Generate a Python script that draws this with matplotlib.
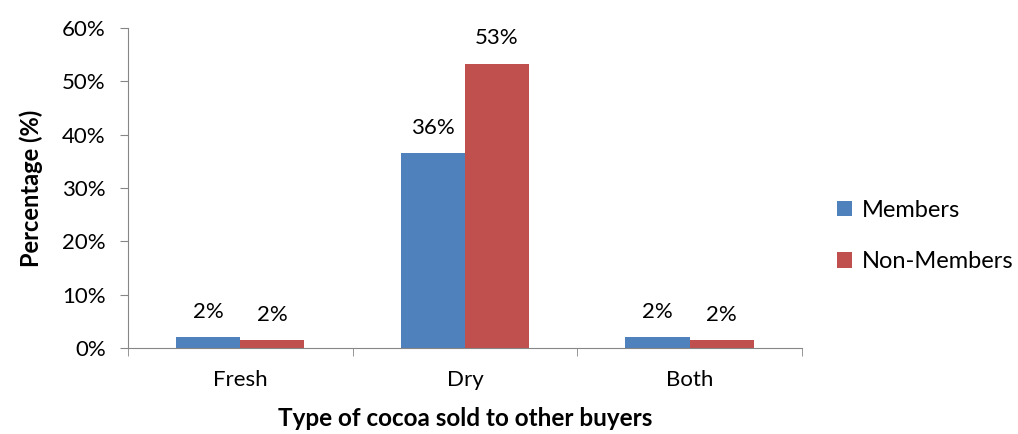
import numpy as np
import matplotlib
matplotlib.use("Agg")
import matplotlib.pyplot as plt
from matplotlib.ticker import FixedLocator, PercentFormatter

categories = ["Fresh", "Dry", "Both"]
members = [2.1, 36.6, 2.1]
non_members = [1.5, 53.3, 1.5]
member_labels = ["2%", "36%", "2%"]
non_member_labels = ["2%", "53%", "2%"]

plt.rcParams['font.family'] = ['Lato', 'DejaVu Sans']
fs = 16

fig = plt.figure(figsize=(10.18, 4.34), dpi=100)
ax = fig.add_axes([0.1257, 0.198, 0.662, 0.7375])

x = np.arange(len(categories))
width = 1 / 3.5
b1 = ax.bar(x - width / 2, members, width, color='#4F81BD', label='Members')
b2 = ax.bar(x + width / 2, non_members, width, color='#C0504D', label='Non-Members')

# value labels above the bars
for bars, labels in ((b1, member_labels), (b2, non_member_labels)):
    for rect, lab in zip(bars, labels):
        ax.annotate(lab, (rect.get_x() + rect.get_width() / 2, rect.get_height()),
                    xytext=(0, 11), textcoords='offset points',
                    ha='center', va='bottom', fontsize=fs)

ax.set_xlim(-0.5, len(categories) - 0.5)
ax.set_ylim(0, 60)
ax.set_yticks(np.arange(0, 61, 10))
ax.yaxis.set_major_formatter(PercentFormatter(decimals=0))
ax.set_xticks(x)
ax.set_xticklabels(categories)
ax.xaxis.set_minor_locator(FixedLocator(np.arange(-0.5, len(categories), 1)))
ax.tick_params(axis='x', which='major', length=0, pad=16, labelsize=fs)
ax.tick_params(axis='x', which='minor', length=6, color='#868686', direction='out')
ax.tick_params(axis='y', length=6, color='#868686', direction='out', pad=10, labelsize=fs)

for side in ('top', 'right'):
    ax.spines[side].set_visible(False)
for side in ('left', 'bottom'):
    ax.spines[side].set_color('#868686')

ax.set_xlabel('Type of cocoa sold to other buyers', fontsize=17.5, fontweight='bold', labelpad=12)
ax.set_ylabel('Percentage (%)', fontsize=17, fontweight='bold', labelpad=14)

ax.legend(loc='center left', bbox_to_anchor=(1.02, 0.35), frameon=False,
          fontsize=17, handlelength=0.65, handleheight=0.65, labelspacing=1.3,
          handletextpad=0.4)

fig.savefig('out.png', dpi=100)
